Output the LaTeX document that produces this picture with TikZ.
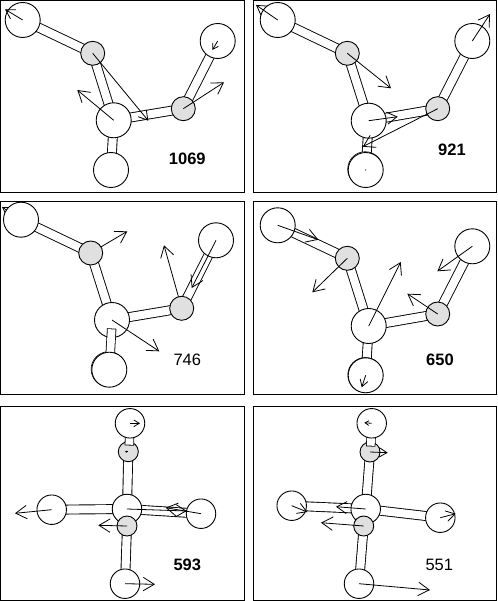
\documentclass[tikz,border=0pt]{standalone}
\usepackage{fontspec}
\setmainfont{Liberation Sans}
\usetikzlibrary{arrows.meta}
\pgfdeclarelayer{under}
\pgfdeclarelayer{lowatom}
\pgfdeclarelayer{upper}
\pgfsetlayers{under,lowatom,upper,main}
\tikzset{
  panel/.style={draw=black,line width=1pt,fill=none},
  bigatom/.style={circle,draw=black,fill=white,line width=.9pt,minimum size=35pt,inner sep=0pt},
  ghostatom/.style={bigatom,line width=.6pt},
  smallatom/.style={circle,draw=black,fill=atomgrey,line width=.9pt,minimum size=24pt,inner sep=0pt},
  bigatomb/.style={bigatom,minimum size=29.5pt},
  smallatomb/.style={smallatom,minimum size=20pt},
  bondline/.style={draw=black,line width=.9pt,double=white,double distance=8.1pt},
  vec/.style={draw=black,line width=.8pt,-{Straight Barb[length=#1*11pt,width=#1*13.4pt,line width=.8pt]}},
  vec/.default=1,
  boldlabel/.style={font=\fontsize{16.5}{18}\selectfont\bfseries,inner sep=0pt},
  pltlabel/.style={font=\fontsize{16.5}{18}\selectfont,inner sep=0pt},
}
\definecolor{atomgrey}{HTML}{E0E0E0}
% \arrv{atom}{x,y}{scale}: displacement arrow from the atom to a named tip
\newcommand{\arrv}[3]{\coordinate (#1-tip) at (#2);\draw[vec=#3] (#1.center) -- (#1-tip);}
\newcommand{\bondv}[2]{\draw[bondline] (#1.center) -- (#2.center);}
\newcommand{\capbond}[2]{%
  \draw[line width=9.4pt,black] (#1.center) -- (#2);
  \draw[line width=7.8pt,white,shorten >=.8pt] (#1.center) -- (#2);}
\begin{document}
\begin{tikzpicture}[x=1pt,y=-1pt]
\useasboundingbox (0,0) rectangle (497,601);
\begin{pgfonlayer}{under}
\fill[white] (0,0) rectangle (497,601);
\end{pgfonlayer}
\draw[panel] (.5,.5) rectangle (244,193);
\draw[panel] (253.5,.5) rectangle (496.5,193);
\draw[panel] (.5,201.5) rectangle (244,394.5);
\draw[panel] (253.5,201.5) rectangle (496.5,394.5);
\draw[panel] (.5,406.5) rectangle (244,600.5);
\draw[panel] (253.5,406.5) rectangle (496.5,600.5);

% ---- 1069
\node[bigatom] (a1) at (22.7,20) {};
\node[smallatom] (b1) at (92.7,53.3) {};
\node[bigatom] (c1) at (113.7,120.3) {};
\node[smallatom] (d1) at (183.3,108.7) {};
\node[bigatom] (e1) at (217.7,41) {};
\node[bigatom] (f1) at (111,170) {};
\begin{pgfonlayer}{under}
\bondv{a1}{b1}\bondv{b1}{c1}\bondv{c1}{d1}\bondv{d1}{e1}\bondv{c1}{f1}
\end{pgfonlayer}
\arrv{a1}{5,9.3}{.8}
\arrv{b1}{148.3,120.7}{.8}
\arrv{c1}{77.3,90}{1}
\arrv{d1}{224,82.3}{1}
\arrv{e1}{212.3,50}{.5}
\node[boldlabel] (t1) at (187.3,159) {1069};

% ---- 921
\node[bigatom] (a2) at (277.7,20) {};
\node[smallatom] (b2) at (347.3,53.3) {};
\node[bigatom] (c2) at (368.7,120.7) {};
\node[smallatom] (d2) at (437.7,108.7) {};
\node[bigatom] (e2) at (472.3,41) {};
\begin{pgfonlayer}{lowatom}
\node[ghostatom] (g2) at (365.2,169.2) {};
\end{pgfonlayer}
\node[bigatom] (f2) at (365.7,170) {};
\begin{pgfonlayer}{under}
\bondv{a2}{b2}\bondv{b2}{c2}\bondv{c2}{d2}\bondv{d2}{e2}\bondv{c2}{f2}
\end{pgfonlayer}
\arrv{a2}{256,5}{.8}
\arrv{b2}{391,88.3}{1}
\arrv{c2}{397.7,116.7}{.9}
\arrv{d2}{362.7,146.7}{1}
\arrv{e2}{490,14}{1}
\fill (f2.center) circle (.6);
\node[boldlabel] (t2) at (452,150.3) {921};

% ---- 746
\node[bigatom] (a3) at (21,219.7) {};
\node[smallatom] (b3) at (90.7,253) {};
\begin{pgfonlayer}{lowatom}
\node[bigatom] (c3) at (112,320) {};
\end{pgfonlayer}
\node[smallatom] (d3) at (181.7,308.3) {};
\node[bigatom] (e3) at (216,240.3) {};
\begin{pgfonlayer}{upper}
\node[ghostatom] (g3) at (108.6,369.2) {};
\end{pgfonlayer}
\node[bigatom] (f3) at (109.3,369.7) {};
\coordinate (f3-end) at (111.7,328.5);
\begin{pgfonlayer}{under}
\bondv{a3}{b3}\bondv{b3}{c3}\bondv{c3}{d3}\bondv{d3}{e3}
\arrv{a3}{2,207}{.6}
\arrv{b3}{127.3,231.3}{1}
\arrv{d3}{164,245.3}{1}
\end{pgfonlayer}
\begin{pgfonlayer}{upper}
\capbond{f3}{f3-end}
\end{pgfonlayer}
\arrv{c3}{159.3,351.3}{1}
\arrv{e3}{191.7,288}{1}
\node[pltlabel] (t3) at (187.3,360.3) {746};

% ---- 650
\node[bigatom] (a4) at (277.7,225.3) {};
\node[smallatom] (b4) at (347.3,258.3) {};
\node[bigatom] (c4) at (368.7,326) {};
\node[smallatom] (d4) at (437.7,314) {};
\node[bigatom] (e4) at (472.3,246.3) {};
\begin{pgfonlayer}{lowatom}
\node[ghostatom] (g4) at (365.3,375) {};
\end{pgfonlayer}
\node[bigatom] (f4) at (365.7,375.3) {};
\begin{pgfonlayer}{under}
\bondv{a4}{b4}\bondv{b4}{c4}\bondv{c4}{d4}\bondv{d4}{e4}\bondv{c4}{f4}
\end{pgfonlayer}
\arrv{a4}{318.3,239.7}{1}
\arrv{b4}{312.3,292.3}{1}
\arrv{c4}{400.7,262}{1}
\arrv{d4}{407.3,293.7}{1}
\arrv{e4}{437.3,271.3}{1}
\arrv{f4}{361.7,387.3}{.6}
\node[boldlabel] (t4) at (440,360.3) {650};

% ---- 593
\node[bigatomb] (a5) at (130,423.3) {};
\begin{pgfonlayer}{lowatom}
\node[smallatomb] (b5) at (128.3,451.7) {};
\node[bigatomb] (c5) at (127,509) {};
\end{pgfonlayer}
\node[bigatomb] (l5) at (51.7,509.7) {};
\node[bigatomb] (r5) at (201,513.7) {};
\node[smallatomb] (d5) at (127,526) {};
\node[bigatomb] (f5) at (125,583.7) {};
\coordinate (a5-end) at (129.3,445.5);
\begin{pgfonlayer}{under}
\bondv{b5}{c5}\bondv{l5}{c5}\bondv{c5}{r5}\bondv{d5}{f5}
\end{pgfonlayer}
\begin{pgfonlayer}{upper}
\capbond{a5}{a5-end}
\end{pgfonlayer}
\arrv{a5}{140,423.3}{.5}
\arrv{b5}{125,451.7}{.1}
\arrv{c5}{186.7,511}{.9}
\arrv{l5}{15,513.3}{1}
\arrv{r5}{165.7,507.7}{1}
\arrv{d5}{98.3,525.3}{1}
\arrv{f5}{155,584.3}{1}
\node[boldlabel] (t5) at (187.3,565) {593};

% ---- 551
\node[bigatomb] (a6) at (371.7,423.3) {};
\begin{pgfonlayer}{lowatom}
\node[smallatomb] (b6) at (370,452) {};
\node[bigatomb] (c6) at (365.7,509) {};
\end{pgfonlayer}
\node[bigatomb] (l6) at (291.7,505.7) {};
\node[bigatomb] (r6) at (440.3,517.7) {};
\node[smallatomb] (d6) at (363.7,526) {};
\node[bigatomb] (f6) at (359,583.7) {};
\coordinate (a6-end) at (370.7,446.5);
\begin{pgfonlayer}{under}
\bondv{b6}{c6}\bondv{l6}{c6}\bondv{c6}{r6}\bondv{d6}{f6}
\end{pgfonlayer}
\begin{pgfonlayer}{upper}
\capbond{a6}{a6-end}
\end{pgfonlayer}
\arrv{a6}{364.3,422.7}{.35}
\arrv{b6}{387.7,452.7}{.7}
\arrv{c6}{336,506.7}{.9}
\arrv{l6}{307.3,512}{.8}
\arrv{r6}{455.7,513.7}{.8}
\arrv{d6}{321,522.7}{1}
\arrv{f6}{430,590}{1}
\node[pltlabel] (t6) at (439.3,565) {551};
\end{tikzpicture}
\end{document}
